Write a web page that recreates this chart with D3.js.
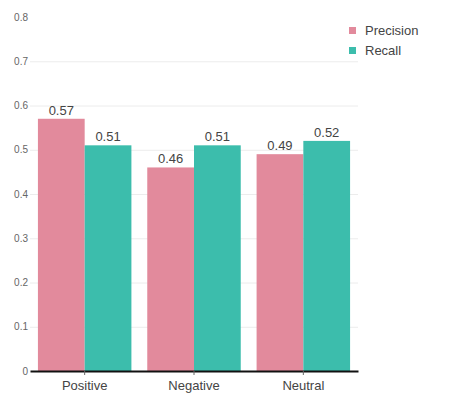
<!DOCTYPE html>
<html>
<head>
<meta charset="utf-8">
<script src="https://cdn.jsdelivr.net/npm/d3@7"></script>
<style>
  body { margin: 0; background: #fff; }
  svg { font-family: "Liberation Sans", Arial, sans-serif; }
  .grid line { stroke: #ececec; }
  .grid .domain { display: none; }
</style>
</head>
<body>
<div class="chart-container"></div>
<script>
const categories = ['Positive', 'Negative', 'Neutral'];
const seriesNames = ['Precision', 'Recall'];
const precision = [0.57, 0.46, 0.49];
const recall = [0.51, 0.51, 0.52];
const yTicks = [0, 0.1, 0.2, 0.3, 0.4, 0.5, 0.6, 0.7, 0.8];
const colors = ['#e28a9c', '#3cbdac'];

const width = 472, height = 397;
const plotLeft = 30, plotRight = 358, plotTop = 17, plotBottom = 371;

const svg = d3.select('.chart-container').append('svg')
    .attr('width', width)
    .attr('height', height);

const x = d3.scaleBand()
    .domain(categories)
    .range([plotLeft, plotRight])
    .paddingInner(0.145)
    .paddingOuter(0.0725);

const xs = d3.scaleBand()
    .domain(seriesNames)
    .range([0, x.bandwidth()]);

const y = d3.scaleLinear()
    .domain([0, 0.8])
    .range([plotBottom, plotTop]);

// grid (none on the top tick)
svg.append('g')
    .attr('class', 'grid')
    .attr('transform', 'translate(' + plotLeft + ',0)')
    .call(d3.axisRight(y).tickValues(yTicks.slice(1, -1)).tickSize(plotRight - plotLeft).tickFormat(''));

// y labels
svg.append('g')
    .selectAll('text')
    .data(yTicks)
    .enter()
    .append('text')
        .attr('x', 28)
        .attr('y', d => y(d) + 3.5)
        .attr('text-anchor', 'end')
        .attr('font-size', 10)
        .attr('fill', '#666')
        .text(d => d);

const rows = categories.map((c, i) => ({cat: c, vals: [precision[i], recall[i]]}));

const groups = svg.append('g')
    .selectAll('g')
    .data(rows)
    .enter()
    .append('g')
        .attr('transform', d => 'translate(' + x(d.cat) + ',0)');

groups.selectAll('rect')
    .data(d => d.vals.map((v, j) => ({s: seriesNames[j], v: v, j: j})))
    .enter()
    .append('rect')
        .attr('x', d => xs(d.s))
        .attr('y', d => y(d.v))
        .attr('width', xs.bandwidth())
        .attr('height', d => y(0) - y(d.v))
        .attr('fill', d => colors[d.j]);

groups.selectAll('text')
    .data(d => d.vals.map((v, j) => ({s: seriesNames[j], v: v, j: j})))
    .enter()
    .append('text')
        .attr('x', d => xs(d.s) + xs.bandwidth() / 2)
        .attr('y', d => y(d.v) - 4)
        .attr('text-anchor', 'middle')
        .attr('font-size', 13)
        .attr('fill', '#444')
        .text(d => d.v.toFixed(2));

// x axis
const xAxis = svg.append('g')
    .attr('transform', 'translate(0,' + plotBottom + ')')
    .call(d3.axisBottom(x).tickSize(4).tickSizeOuter(0));
xAxis.select('.domain').attr('stroke', '#111').attr('stroke-width', 2);
xAxis.selectAll('.tick line').attr('stroke', '#666');
xAxis.selectAll('.tick text')
    .attr('font-size', 13)
    .attr('fill', '#444')
    .attr('dy', '0.95em')
    .style('font-family', '"Liberation Sans", Arial, sans-serif');

// legend
const legend = svg.append('g')
    .selectAll('g')
    .data(seriesNames)
    .enter()
    .append('g')
        .attr('transform', (d, i) => 'translate(349,' + (27 + i * 20) + ')');
legend.append('rect')
    .attr('width', 7)
    .attr('height', 7)
    .attr('fill', (d, i) => colors[i]);
legend.append('text')
    .attr('x', 16)
    .attr('y', 8)
    .attr('font-size', 13)
    .attr('fill', '#444')
    .text(d => d);
</script>
</body>
</html>
